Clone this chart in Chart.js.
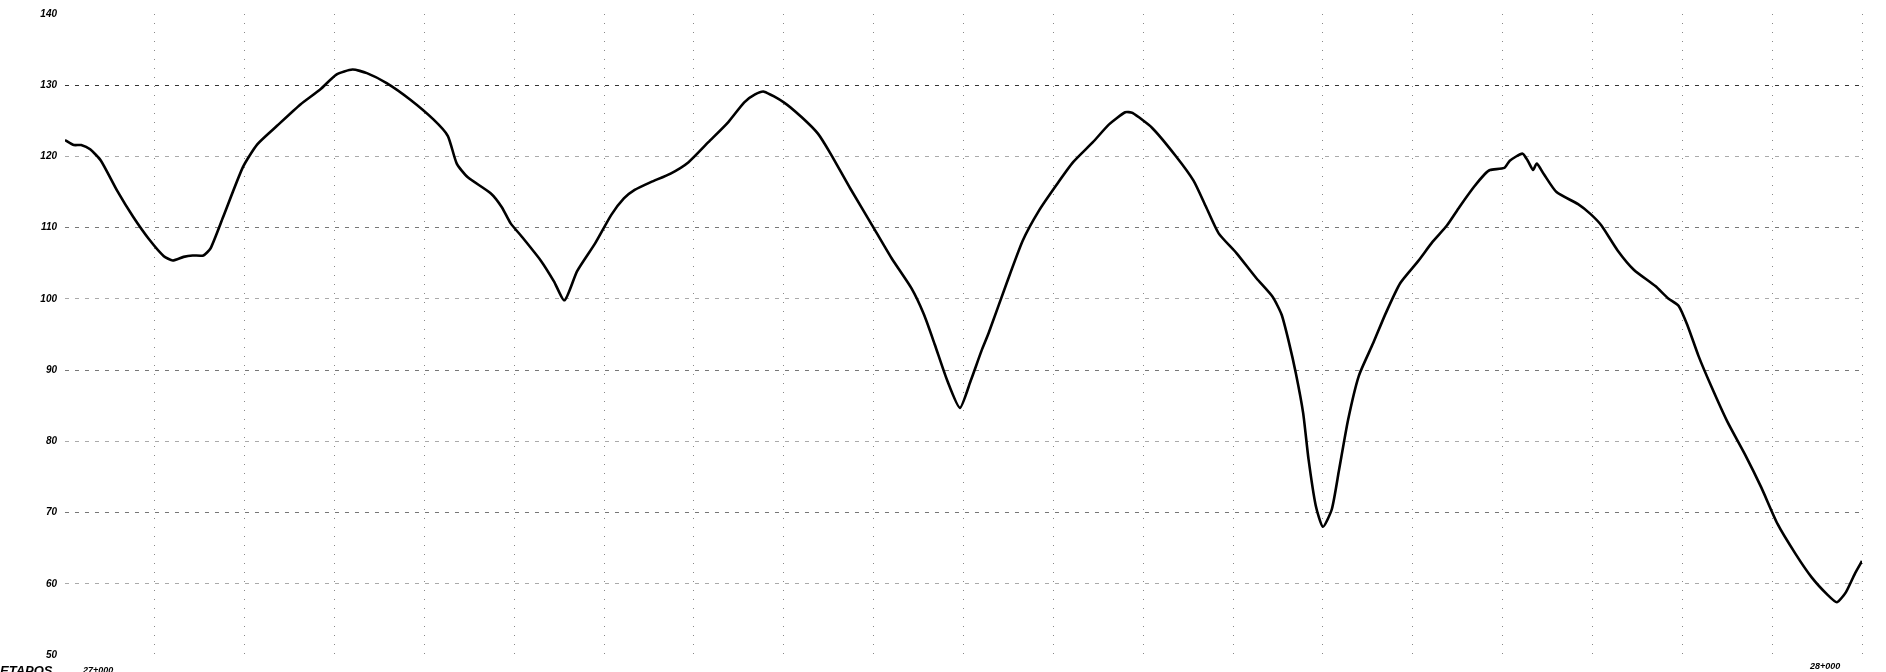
<!DOCTYPE html>
<html>
<head>
<meta charset="utf-8">
<title>Longitudinal profile 27+000 – 28+000</title>
<script src="https://cdn.jsdelivr.net/npm/chart.js@4/dist/chart.umd.min.js"></script>
<style>
  html, body { margin: 0; padding: 0; background: #fff; overflow: hidden; }
  #wrap { position: relative; width: 1886px; height: 672px; }
  .lbl {
    position: absolute;
    font-family: "Liberation Sans", Arial, sans-serif;
    font-weight: bold;
    font-style: italic;
    color: #000;
    white-space: nowrap;
  }
</style>
</head>
<body>
<div id="wrap">
  <canvas id="profile"></canvas>
  <div class="lbl" style="left:0;top:663px;font-size:13px;">ETAPOS</div>
  <div class="lbl" style="left:83px;top:665px;font-size:9px;">27+000</div>
  <div class="lbl" style="left:1810px;top:661px;font-size:9px;">28+000</div>
</div>
<script>
// Profile values (chainage in m, elevation)
const chainage = [
  27000, 27005, 27009, 27014, 27020, 27029, 27038, 27047, 27055, 27060,
  27066, 27071, 27077, 27081, 27088, 27099, 27107, 27118, 27131, 27142,
  27151, 27160, 27168, 27179, 27192, 27205, 27213, 27218, 27224, 27237,
  27243, 27248, 27254, 27265, 27272, 27278, 27285, 27295, 27304, 27311,
  27317, 27326, 27337, 27347, 27358, 27369, 27378, 27384, 27389, 27400,
  27410, 27419, 27426, 27437, 27449, 27460, 27471, 27478, 27484, 27491,
  27498, 27504, 27510, 27514, 27524, 27533, 27542, 27552, 27561, 27572,
  27581, 27590, 27594, 27605, 27618, 27628, 27635, 27642, 27652, 27663,
  27672, 27677, 27681, 27685, 27689, 27692, 27696, 27700, 27705, 27709,
  27714, 27720, 27728, 27735, 27743, 27753, 27761, 27769, 27776, 27784,
  27790, 27793, 27801, 27804, 27811, 27814, 27817, 27819, 27823, 27830,
  27842, 27849, 27855, 27864, 27873, 27885, 27892, 27898, 27903, 27909,
  27916, 27925, 27935, 27944, 27953, 27963, 27972, 27981, 27986, 27991,
  27996, 28000
];
const elevation = [
  122.3, 121.6, 121.6, 121.0, 119.4, 115.2, 111.5, 108.3, 106.0, 105.4,
  105.9, 106.1, 106.1, 107.1, 111.5, 118.5, 121.7, 124.3, 127.3, 129.4,
  131.5, 132.2, 131.7, 130.3, 128.0, 125.2, 122.9, 119.0, 117.1, 114.8,
  112.9, 110.6, 108.8, 105.3, 102.5, 99.8, 103.9, 107.8, 111.8, 114.1,
  115.3, 116.4, 117.6, 119.2, 122.0, 124.8, 127.6, 128.7, 129.1, 127.6,
  125.5, 123.2, 120.4, 115.5, 110.4, 105.7, 101.5, 97.8, 93.6, 88.5,
  84.7, 88.5, 92.7, 95.2, 102.2, 108.2, 112.4, 116.1, 119.2, 122.0,
  124.5, 126.2, 126.1, 124.0, 120.1, 116.6, 112.9, 109.2, 106.4, 102.9,
  100.3, 97.8, 94.0, 89.5, 84.0, 77.5, 71.0, 68.0, 70.5, 76.0,
  83.0, 89.2, 93.8, 98.0, 102.2, 105.3, 108.0, 110.3, 112.9, 115.7,
  117.5, 118.1, 118.4, 119.4, 120.4, 119.4, 118.1, 119.0, 117.5, 115.0,
  113.3, 111.9, 110.3, 106.8, 104.1, 101.8, 100.1, 99.0, 96.2, 92.0,
  87.8, 82.8, 78.1, 73.5, 68.4, 64.2, 60.9, 58.4, 57.4, 58.8,
  61.4, 63.2
];
const yTicks = [50, 60, 70, 80, 90, 100, 110, 120, 130, 140];
const xStart = 27000;
const xEnd = 28000;
const xGridStep = 50;

(function () {
  const points = chainage.map((c, i) => ({ x: c, y: elevation[i] }));
  const ctx = document.getElementById("profile").getContext("2d");

  // Grid shade per elevation line: 130 is the heaviest on the scan,
  // the odd tens (110/90/70) are medium, the rest are faint.
  const yGridColor = (v) => {
    if (v === 50 || v === 140) return "rgba(0,0,0,0)";
    if (v === 130) return "#333";
    if (v === 110 || v === 90 || v === 70) return "#777";
    return "#aaa";
  };

  // ----------------- Chart ----------------
  new Chart(ctx, {
    type: "line",
    data: {
      datasets: [
        {
          data: points,
          borderColor: "#000",
          borderWidth: 2.6,
          tension: 0.2,
          pointRadius: 0,
          fill: false
        }
      ]
    },
    options: {
      responsive: true,
      maintainAspectRatio: false,
      animation: false,
      devicePixelRatio: 1,
      layout: { padding: { top: 9, right: 24, bottom: 17, left: 0 } },
      plugins: { legend: { display: false }, tooltip: { enabled: false } },
      scales: {
        x: {
          type: "linear",
          min: xStart,
          max: xEnd,
          afterFit: (s) => { s.height = 0; },
          ticks: { display: false, stepSize: xGridStep },
          border: { display: false, dash: [1, 8] },
          grid: {
            drawTicks: false,
            lineWidth: 1,
            // no rule on the first station, the curve starts there
            color: (c) => (c.tick && c.tick.value === xStart ? "rgba(0,0,0,0)" : "#888")
          }
        },
        y: {
          min: yTicks[0],
          max: yTicks[yTicks.length - 1],
          afterFit: (s) => { s.width = 65; },
          afterBuildTicks: (s) => { s.ticks = yTicks.map((v) => ({ value: v })); },
          ticks: {
            color: "#000",
            padding: 8,
            font: { family: "'Liberation Sans', Arial, sans-serif", size: 10, weight: "bold", style: "italic" }
          },
          border: { display: false, dash: [4, 6] },
          grid: {
            drawTicks: false,
            lineWidth: 1,
            color: (c) => yGridColor(c.tick ? c.tick.value : null)
          }
        }
      }
    }
  });
})();
</script>
</body>
</html>
